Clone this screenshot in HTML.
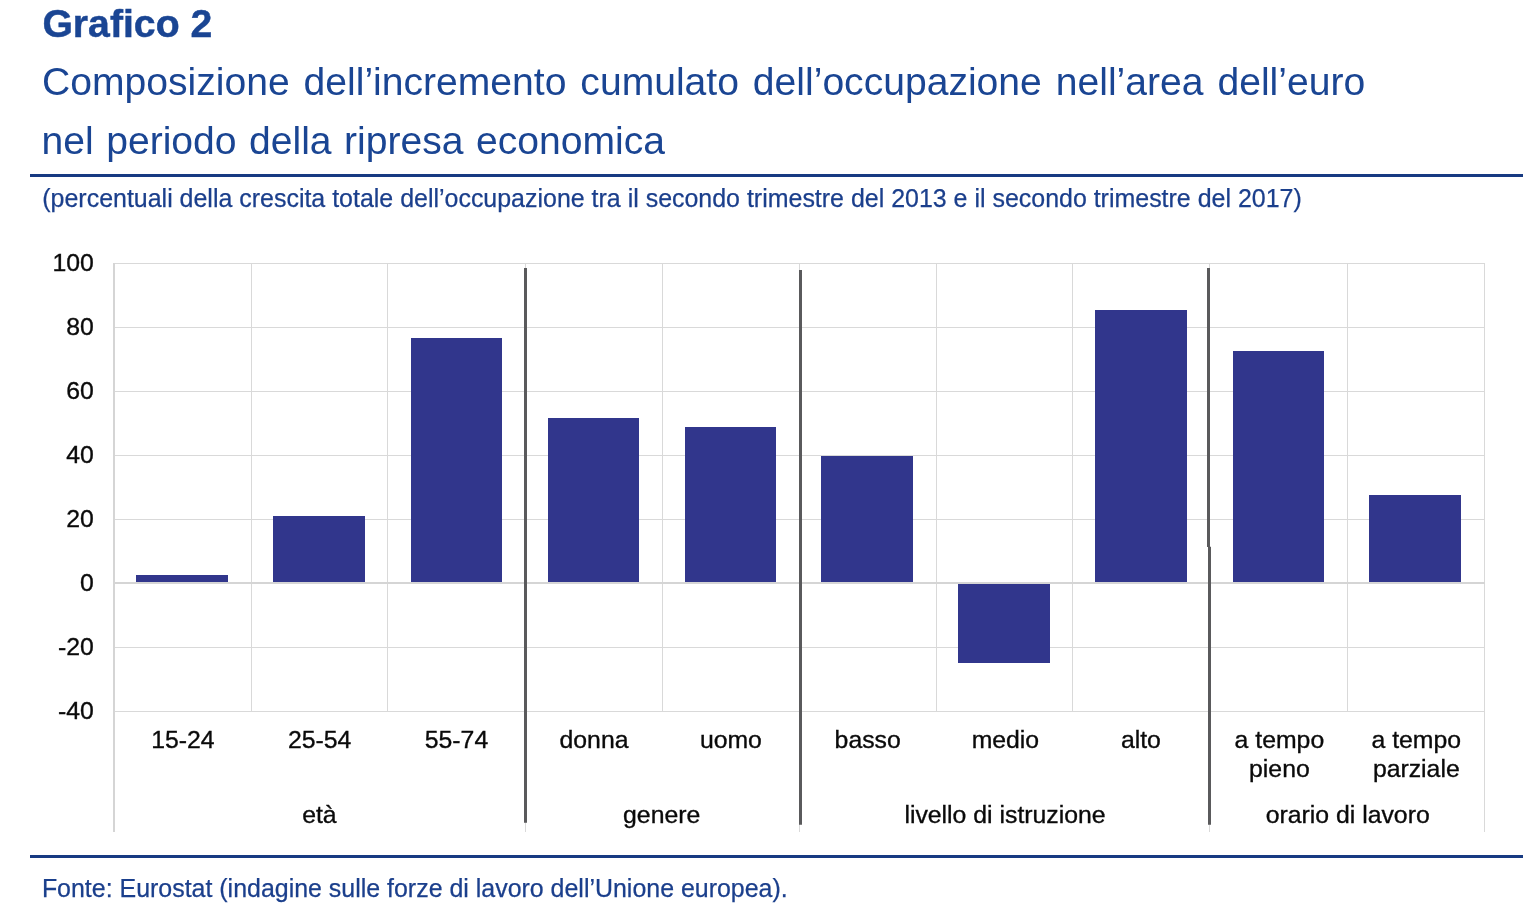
<!DOCTYPE html>
<html lang="it">
<head>
<meta charset="utf-8">
<title>Grafico 2</title>
<style>
html,body{margin:0;padding:0;background:#fff;}
body{width:1533px;height:905px;position:relative;overflow:hidden;font-family:"Liberation Sans",Arial,sans-serif;}
.t{position:absolute;white-space:nowrap;color:#1a4593;line-height:1;}
#h1{left:42.4px;top:3.6px;font-size:39.2px;font-weight:bold;-webkit-text-stroke:0.45px #1a4593;}
#h2{left:42px;top:61.5px;font-size:39.1px;word-spacing:3.1px;}
#h3{left:41.6px;top:120.9px;font-size:39.1px;word-spacing:1.6px;}
#sub{left:42.3px;top:185.6px;font-size:24.965px;color:#1b3f8c;-webkit-text-stroke:0.25px #1b3f8c;}
#src{left:41.9px;top:876.1px;font-size:24.95px;color:#1b3f8c;-webkit-text-stroke:0.25px #1b3f8c;}
.rule{position:absolute;left:30.2px;width:1492.8px;height:3px;background:#173a82;}
#r1{top:174px;}
#r2{top:855px;}
svg{position:absolute;left:0;top:0;}
svg text{font-family:"Liberation Sans",Arial,sans-serif;font-size:24.8px;fill:#0a0a0a;stroke:#0a0a0a;stroke-width:0.35px;}
</style>
</head>
<body>
<div class="t" id="h1">Grafico 2</div>
<div class="t" id="h2">Composizione dell’incremento cumulato dell’occupazione nell’area dell’euro</div>
<div class="t" id="h3">nel periodo della ripresa economica</div>
<div class="rule" id="r1"></div>
<div class="t" id="sub">(percentuali della crescita totale dell’occupazione tra il secondo trimestre del 2013 e il secondo trimestre del 2017)</div>
<svg width="1533" height="905" viewBox="0 0 1533 905">
<g id="grid" stroke="#d9d9d9" stroke-width="1" fill="none" shape-rendering="crispEdges">
<path d="M114 263.5H1485M114 327.5H1485M114 391.5H1485M114 455.5H1485M114 519.5H1485M114 647.5H1485M114 711.5H1485"/>
<path d="M251.5 263V711M387.5 263V711M525.5 263V832M662.5 263V711M799.5 263V832M936.5 263V711M1072.5 263V711M1209.5 263V832M1347.5 263V711M1484.5 263V832"/>
</g>
<path d="M114 263V832" stroke="#d5d5d5" stroke-width="2" shape-rendering="crispEdges"/>
<path d="M113 583H1485" stroke="#d5d5d5" stroke-width="2" shape-rendering="crispEdges"/>
<g id="bars" fill="#31368c">
<rect x="136" y="575" width="92" height="7"/>
<rect x="273" y="516" width="92" height="66"/>
<rect x="411" y="338" width="91" height="244"/>
<rect x="548" y="418" width="91" height="164"/>
<rect x="685" y="427" width="91" height="155"/>
<rect x="821" y="456" width="92" height="126"/>
<rect x="958" y="584" width="92" height="79"/>
<rect x="1095" y="310" width="92" height="272"/>
<rect x="1233" y="351" width="91" height="231"/>
<rect x="1369" y="495" width="92" height="87"/>
</g>
<g id="div" stroke="#5a5a5c" stroke-width="3" fill="none">
<path d="M525.5 268V822.8M800.5 270V824.8M1208.5 268V547M1209.5 546.8V824.8"/>
</g>
<g text-anchor="end">
<text x="93.8" y="271">100</text>
<text x="93.8" y="335">80</text>
<text x="93.8" y="399">60</text>
<text x="93.8" y="463">40</text>
<text x="93.8" y="527">20</text>
<text x="93.8" y="590.6">0</text>
<text x="93.8" y="655">-20</text>
<text x="93.8" y="719">-40</text>
</g>
<g text-anchor="middle">
<text x="182.9" y="747.7">15-24</text>
<text x="319.6" y="747.7">25-54</text>
<text x="456.5" y="747.7">55-74</text>
<text x="594" y="747.7">donna</text>
<text x="730.9" y="747.7">uomo</text>
<text x="867.7" y="747.7">basso</text>
<text x="1005.4" y="747.7">medio</text>
<text x="1140.9" y="747.7">alto</text>
<text x="1279.4" y="747.7">a tempo</text>
<text x="1279.4" y="776.6">pieno</text>
<text x="1416.3" y="747.7">a tempo</text>
<text x="1416.3" y="776.6">parziale</text>
<text x="319.4" y="822.6">età</text>
<text x="661.7" y="822.6">genere</text>
<text x="1005" y="822.6">livello di istruzione</text>
<text x="1347.7" y="822.6">orario di lavoro</text>
</g>
</svg>
<div class="rule" id="r2"></div>
<div class="t" id="src">Fonte: Eurostat (indagine sulle forze di lavoro dell’Unione europea).</div>
</body>
</html>
